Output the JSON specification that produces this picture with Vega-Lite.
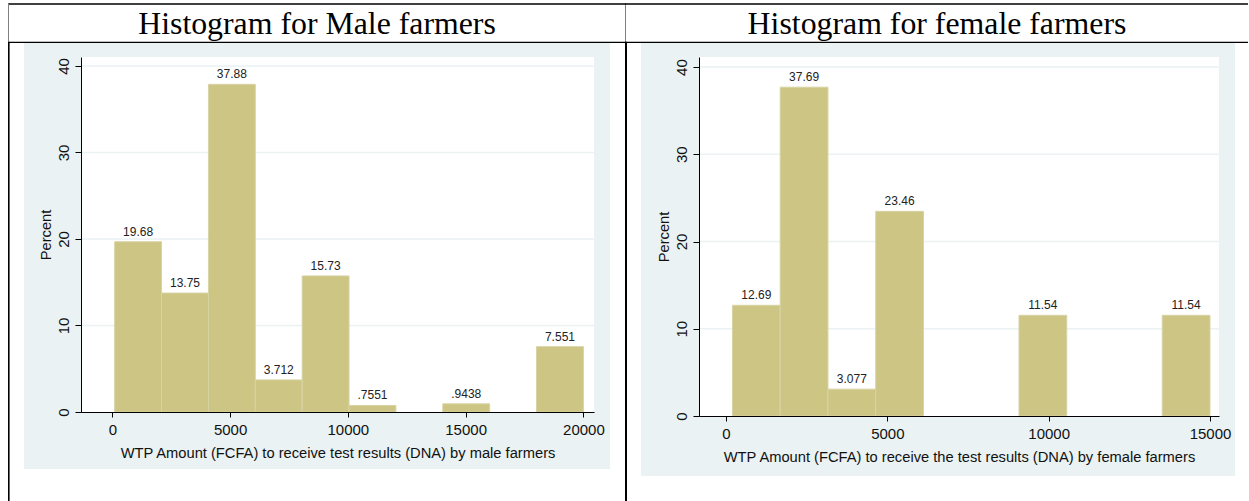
{
  "$schema": "https://vega.github.io/schema/vega-lite/v6.json",
  "background": "white",
  "padding": {"left": 8, "top": 3, "right": 1, "bottom": 0},
  "bounds": "flush",
  "spacing": 105,
  "datasets": {
    "male": [
      {"x0": 100, "x1": 2090, "mid": 1095, "pct": 19.68, "lab": "19.68"},
      {"x0": 2090, "x1": 4080, "mid": 3085, "pct": 13.75, "lab": "13.75"},
      {"x0": 4080, "x1": 6070, "mid": 5075, "pct": 37.88, "lab": "37.88"},
      {"x0": 6070, "x1": 8060, "mid": 7065, "pct": 3.712, "lab": "3.712"},
      {"x0": 8060, "x1": 10050, "mid": 9055, "pct": 15.73, "lab": "15.73"},
      {"x0": 10050, "x1": 12040, "mid": 11045, "pct": 0.7551, "lab": ".7551"},
      {"x0": 14030, "x1": 16020, "mid": 15025, "pct": 0.9438, "lab": ".9438"},
      {"x0": 18010, "x1": 20000, "mid": 19005, "pct": 7.551, "lab": "7.551"}
    ],
    "female": [
      {"x0": 200, "x1": 1680, "mid": 940, "pct": 12.69, "lab": "12.69"},
      {"x0": 1680, "x1": 3160, "mid": 2420, "pct": 37.69, "lab": "37.69"},
      {"x0": 3160, "x1": 4640, "mid": 3900, "pct": 3.077, "lab": "3.077"},
      {"x0": 4640, "x1": 6120, "mid": 5380, "pct": 23.46, "lab": "23.46"},
      {"x0": 9080, "x1": 10560, "mid": 9820, "pct": 11.54, "lab": "11.54"},
      {"x0": 13520, "x1": 15000, "mid": 14260, "pct": 11.54, "lab": "11.54"}
    ],
    "grid": [{"v": 10}, {"v": 20}, {"v": 30}, {"v": 40}]
  },
  "config": {
    "view": {"stroke": null},
    "axis": {
      "domainColor": "#000", "tickColor": "#000", "labelColor": "#111", "titleColor": "#111",
      "labelFont": "Liberation Sans", "titleFont": "Liberation Sans",
      "labelFontSize": 15, "titleFontSize": 14.7, "titleFontWeight": "normal",
      "tickSize": 5, "grid": false, "labelFlush": false, "labelOverlap": false,
      "domainWidth": 1, "tickWidth": 1
    },
    "axisX": {"labelPadding": 5, "titlePadding": 8.5},
    "axisY": {"labelAngle": 270, "labelAlign": "center", "labelBaseline": "alphabetic", "labelPadding": 7, "tickSize": 6, "titlePadding": 3}
  },
  "hconcat": [
    {
      "width": 513,
      "height": 355,
      "layer": [
        {"data": {"values": [{}]}, "mark": {"type": "rect", "color": "#EAF2F3"},
         "encoding": {"x": {"datum": -3750, "type": "quantitative"}, "x2": {"datum": 21129.4}, "y": {"datum": 42.659, "type": "quantitative"}, "y2": {"datum": -6.59}}},
        {"data": {"values": [{}]}, "mark": {"type": "rect", "color": "#FFFFFF"},
         "encoding": {"x": {"datum": -1330, "type": "quantitative"}, "x2": {"datum": 20450}, "y": {"datum": 41.04, "type": "quantitative"}, "y2": {"datum": 0}}},
        {"data": {"name": "grid"}, "mark": {"type": "rule", "color": "#EAF2F3", "strokeWidth": 1.5},
         "encoding": {"y": {"field": "v", "type": "quantitative"}}},
        {"data": {"name": "male"}, "mark": {"type": "rect", "fill": "#CCC584", "stroke": "#D8D3A4", "strokeWidth": 1},
         "encoding": {
           "x": {"field": "x0", "type": "quantitative", "scale": {"domain": [-1330, 20450], "nice": false, "zero": false},
                 "axis": {"values": [0, 5000, 10000, 15000, 20000], "format": "d", "zindex": 1, "title": "WTP Amount (FCFA) to receive test results (DNA) by male farmers"}},
           "x2": {"field": "x1"},
           "y": {"field": "pct", "type": "quantitative", "scale": {"domain": [0, 41.04], "nice": false, "zero": false},
                 "axis": {"values": [0, 10, 20, 30, 40], "zindex": 1, "title": "Percent"}},
           "y2": {"datum": 0}
         }},
        {"data": {"name": "male"}, "mark": {"type": "text", "font": "Liberation Sans", "fontSize": 12, "color": "#222", "align": "center", "baseline": "alphabetic", "dy": -6},
         "encoding": {"x": {"field": "mid", "type": "quantitative"}, "y": {"field": "pct", "type": "quantitative"}, "text": {"field": "lab"}}},
        {"data": {"values": [{}]}, "mark": {"type": "text", "font": "Liberation Serif", "fontSize": 31.8, "color": "#000", "align": "center", "baseline": "alphabetic"},
         "encoding": {"x": {"datum": 8689.7, "type": "quantitative"}, "y": {"datum": 43.699, "type": "quantitative"}, "text": {"value": "Histogram for Male farmers"}}},
        {"data": {"values": [{}]}, "mark": {"type": "rect", "color": "#000"},
         "encoding": {"x": {"datum": -4429, "type": "quantitative"}, "x2": {"datum": 21808.7}, "y": {"datum": 47.248, "type": "quantitative"}, "y2": {"datum": 47.075}}},
        {"data": {"values": [{}]}, "mark": {"type": "rect", "color": "#000"},
         "encoding": {"x": {"datum": -4429, "type": "quantitative"}, "x2": {"datum": 21808.7}, "y": {"datum": 42.809, "type": "quantitative"}, "y2": {"datum": 42.659}}},
        {"data": {"values": [{}]}, "mark": {"type": "rect", "color": "#808080"},
         "encoding": {"x": {"datum": -4429, "type": "quantitative"}, "x2": {"datum": -4386.8}, "y": {"datum": 47.248, "type": "quantitative"}, "y2": {"datum": 42.809}}},
        {"data": {"values": [{}]}, "mark": {"type": "rect", "color": "#000"},
         "encoding": {"x": {"datum": -4429, "type": "quantitative"}, "x2": {"datum": -4361.4}, "y": {"datum": 42.809, "type": "quantitative"}, "y2": {"datum": -10.28}}},
        {"data": {"values": [{}]}, "mark": {"type": "rect", "color": "#808080"},
         "encoding": {"x": {"datum": 21766.2, "type": "quantitative"}, "x2": {"datum": 21808.7}, "y": {"datum": 47.248, "type": "quantitative"}, "y2": {"datum": 42.809}}},
        {"data": {"values": [{}]}, "mark": {"type": "rect", "color": "#000"},
         "encoding": {"x": {"datum": 21766.2, "type": "quantitative"}, "x2": {"datum": 21851.1}, "y": {"datum": 42.809, "type": "quantitative"}, "y2": {"datum": -10.28}}}
      ]
    },
    {
      "width": 520,
      "height": 359,
      "layer": [
        {"data": {"values": [{}]}, "mark": {"type": "rect", "color": "#EAF2F3"},
         "encoding": {"x": {"datum": -2634.5, "type": "quantitative"}, "x2": {"datum": 15774.8}, "y": {"datum": 42.755, "type": "quantitative"}, "y2": {"datum": -6.877}}},
        {"data": {"values": [{}]}, "mark": {"type": "rect", "color": "#FFFFFF"},
         "encoding": {"x": {"datum": -837, "type": "quantitative"}, "x2": {"datum": 15279}, "y": {"datum": 41.15, "type": "quantitative"}, "y2": {"datum": 0}}},
        {"data": {"name": "grid"}, "mark": {"type": "rule", "color": "#EAF2F3", "strokeWidth": 1.5},
         "encoding": {"y": {"field": "v", "type": "quantitative"}}},
        {"data": {"name": "female"}, "mark": {"type": "rect", "fill": "#CCC584", "stroke": "#D8D3A4", "strokeWidth": 1},
         "encoding": {
           "x": {"field": "x0", "type": "quantitative", "scale": {"domain": [-837, 15279], "nice": false, "zero": false},
                 "axis": {"values": [0, 5000, 10000, 15000], "format": "d", "zindex": 1, "title": "WTP Amount (FCFA) to receive the test results (DNA) by female farmers"}},
           "x2": {"field": "x1"},
           "y": {"field": "pct", "type": "quantitative", "scale": {"domain": [0, 41.15], "nice": false, "zero": false},
                 "axis": {"values": [0, 10, 20, 30, 40], "zindex": 1, "title": "Percent"}},
           "y2": {"datum": 0}
         }},
        {"data": {"name": "female"}, "mark": {"type": "text", "font": "Liberation Sans", "fontSize": 12, "color": "#222", "align": "center", "baseline": "alphabetic", "dy": -6},
         "encoding": {"x": {"field": "mid", "type": "quantitative"}, "y": {"field": "pct", "type": "quantitative"}, "text": {"field": "lab"}}},
        {"data": {"values": [{}]}, "mark": {"type": "text", "font": "Liberation Serif", "fontSize": 31.8, "color": "#000", "align": "center", "baseline": "alphabetic"},
         "encoding": {"x": {"datum": 6539.1, "type": "quantitative"}, "y": {"datum": 43.786, "type": "quantitative"}, "text": {"value": "Histogram for female farmers"}}},
        {"data": {"values": [{}]}, "mark": {"type": "rect", "color": "#000"},
         "encoding": {"x": {"datum": -3130.4, "type": "quantitative"}, "x2": {"datum": 16177}, "y": {"datum": 47.305, "type": "quantitative"}, "y2": {"datum": 47.134}}},
        {"data": {"values": [{}]}, "mark": {"type": "rect", "color": "#000"},
         "encoding": {"x": {"datum": -3130.4, "type": "quantitative"}, "x2": {"datum": 16177}, "y": {"datum": 42.904, "type": "quantitative"}, "y2": {"datum": 42.755}}}
      ]
    }
  ]
}
